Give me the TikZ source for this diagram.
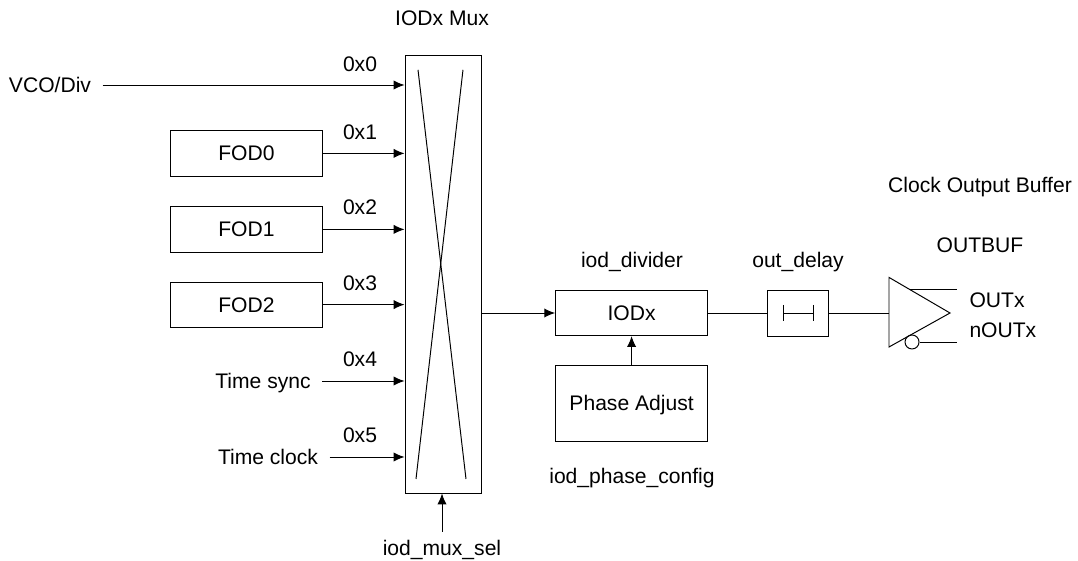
\documentclass[tikz,border=0pt]{standalone}
\usepackage{fontspec}
\setmainfont{Liberation Sans}
\usepackage{tikz}
\usetikzlibrary{arrows.meta,positioning}

\tikzset{
	captext/.style={text height=0.475cm,text depth=0.1cm},
	block/.style={draw,captext,minimum width=3.8cm,minimum height=1.13cm,inner sep=0pt},
	srclabel/.style={captext,inner xsep=0.28cm,inner ysep=0pt},
	textlabel/.style={captext,inner sep=0pt},
	wire/.style={line width=0.7pt},
	arrow/.style={wire,-{Latex[length=0.27cm,width=0.23cm]}}
}

\begin{document}
\begin{tikzpicture}[wire,font=\fontsize{15pt}{18pt}\selectfont]
		\useasboundingbox (0,0) rectangle (26.95,14.025);
		\draw
			(11.075,7.175) node [draw,minimum width=1.9cm,minimum height=10.95cm,inner sep=0pt] (mux) {}
			(1.25,11.9) node [srclabel] (vco) {VCO/Div}
			(6.16,10.19) node [block] (fod0) {FOD0}
			(6.16,8.29) node [block] (fod1) {FOD1}
			(6.16,6.41) node [block] (fod2) {FOD2}
			(6.575,4.5) node [srclabel] (sync) {Time sync}
			(6.7,2.6) node [srclabel] (clock) {Time clock}
			(15.79,6.2) node [block] (iod) {IODx}
			(15.79,3.94) node [block,minimum height=1.88cm] (phase) {Phase Adjust}
			(19.95,6.2) node [draw,minimum width=1.52cm,minimum height=1.15cm,inner sep=0pt] (delay) {}
			(22.8,5.475) node [draw,circle,minimum size=0.35cm,inner sep=0pt] (bubble) {}
			;
		% mux cross
		\draw (10.45,12.28) -- (11.65,2.05);
		\draw (11.575,12.28) -- (10.4,2.05);
		% delay symbol
		\coordinate (dl) at (19.575,6.2);
		\coordinate (dr) at (20.325,6.2);
		\draw (dl) -- (dr);
		\draw ([yshift=0.2cm]dl) -- ([yshift=-0.2cm]dl);
		\draw ([yshift=0.2cm]dr) -- ([yshift=-0.2cm]dr);
		% output buffer
		\coordinate (bufa) at (22.225,7.09);
		\coordinate (bufb) at (22.225,5.35);
		\coordinate (buftip) at (23.75,6.2);
		\coordinate (outp) at (23.925,6.8);
		\coordinate (outn) at (23.925,5.475);
		\draw (bufa) -- (bufb) -- (buftip) -- cycle;
		\draw (22.75,6.8) -- (outp);
		\draw (bubble) -- (outn);
		% free ends
		\coordinate (selin) at (11.05,0.725);
		\draw[arrow] (vco) -- (vco -| mux.west);
		\draw[arrow] (fod0) -- (fod0 -| mux.west);
		\draw[arrow] (fod1) -- (fod1 -| mux.west);
		\draw[arrow] (fod2) -- (fod2 -| mux.west);
		\draw[arrow] (sync) -- (sync -| mux.west);
		\draw[arrow] (clock) -- (clock -| mux.west);
		\draw[arrow] (iod -| mux.east) -- (iod);
		\draw[arrow] (phase) -- (iod);
		\draw[arrow] (selin) -- (selin |- mux.south);
		\draw (iod) -- (delay);
		\draw (delay) -- (delay -| bufa);
		% labels
		\draw
			(11.05,13.575) node [textlabel] (muxname) {IODx Mux}
			(9,12.43) node [textlabel] (in0) {0x0}
			(9,10.72) node [textlabel] (in1) {0x1}
			(9,8.84) node [textlabel] (in2) {0x2}
			(9,6.94) node [textlabel] (in3) {0x3}
			(9,5.04) node [textlabel] (in4) {0x4}
			(9,3.14) node [textlabel] (in5) {0x5}
			(11.05,0.325) node [textlabel] (selname) {iod\_mux\_sel}
			(15.8,7.525) node [textlabel] (iodname) {iod\_divider}
			(15.8,2.125) node [textlabel] (phasename) {iod\_phase\_config}
			(19.95,7.525) node [textlabel] (delayname) {out\_delay}
			(24.5,7.9) node [textlabel] (bufname) {OUTBUF}
			(24.5,9.4) node [textlabel] (bufgroup) {Clock Output Buffer}
			(24.225,6.525) node [textlabel,anchor=west] (outxname) {OUTx}
			(24.225,5.775) node [textlabel,anchor=west] (noutxname) {nOUTx}
			;
	\end{tikzpicture}
\end{document}
